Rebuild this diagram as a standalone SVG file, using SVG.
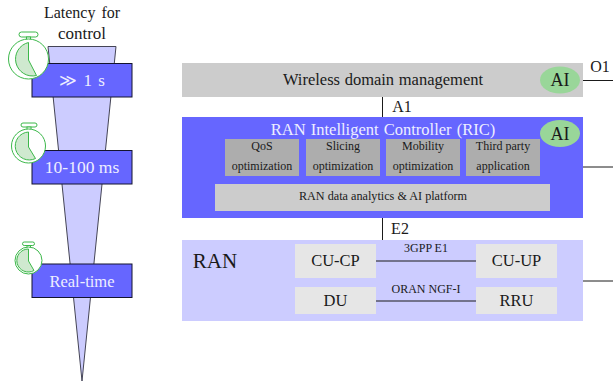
<svg xmlns="http://www.w3.org/2000/svg" width="613" height="385" viewBox="0 0 613 385">
<style>
text{font-family:"Liberation Serif","Times New Roman",serif;text-anchor:middle;fill:#1a1a1a}
.w{fill:#eeeeff}
.lat{fill:#6666ff;stroke:#14142e;stroke-width:1}
.sub{fill:#adadad}
.lg{fill:#cccccc}
.ran{fill:#e6e6e6}
.ai{fill:#99d699}
.ln{stroke:#1a1a1a;stroke-width:1;fill:none}
.c{fill:#fff;stroke:#3cb84a;stroke-width:1}
.cw{fill:#cfe9cf;stroke:#3cb84a;stroke-width:1}
.t12{font-size:12px}
</style>
<g id="latency-title">
<text x="82" y="18" style="font-size:16px;word-spacing:2px">Latency for</text>
<text x="82" y="39" style="font-size:17px">control</text>
</g>
<g id="funnel"><polygon points="48,46.500 116,46.500 82,381" fill="#ccccff" stroke="#444455" stroke-width="1"/></g>
<g id="box-slow"><rect class="lat" x="32" y="63.500" width="100" height="33.500"/><text class="w" x="82" y="86" style="font-size:17px;word-spacing:2px">≫ 1 s</text></g>
<g id="box-mid"><rect class="lat" x="32" y="150.500" width="100" height="33.500"/><text class="w" x="82" y="173" style="font-size:17.500px">10-100 ms</text></g>
<g id="box-rt"><rect class="lat" x="32" y="264" width="100" height="33.500"/><text class="w" x="82" y="287" style="font-size:16.500px">Real-time</text></g>
<g id="clock-1">
<rect class="c" x="19" y="32" width="19" height="5" rx="2.500"/><rect class="c" x="26.500" y="37" width="4" height="4"/>
<circle class="c" cx="28.500" cy="59" r="20"/>
<path class="cw" d="M28.500,42.500 A16.500,16.500 0 1 0 36.500,75.500 L28.500,60 Z"/>
</g>
<g id="clock-2">
<rect class="c" x="21" y="123" width="16" height="4" rx="2"/><rect class="c" x="27" y="127" width="4" height="4"/>
<circle class="c" cx="28.500" cy="146" r="17"/>
<path class="cw" d="M28.500,132 A14,14 0 1 0 35.500,158.500 L28.500,147 Z"/>
</g>
<g id="clock-3">
<rect class="c" x="22.500" y="242" width="12" height="3.500" rx="1.700"/><rect class="c" x="27" y="245.500" width="3.500" height="2.500"/>
<circle class="c" cx="28.500" cy="260.500" r="13.500"/>
<path class="cw" d="M28.500,249 A11.500,11.500 0 1 0 34,270.500 L28.500,261 Z"/>
</g>
<g id="wireless"><rect class="lg" x="182" y="63" width="401" height="34"/><text x="383" y="85" style="font-size:16.500px;word-spacing:.5px">Wireless domain management</text></g>
<g id="ai-top"><ellipse class="ai" cx="560" cy="80" rx="20" ry="13.500"/><text x="560" y="86" style="font-size:18px">AI</text></g>
<g id="ric"><rect x="182" y="117" width="401" height="101" fill="#6666ff"/><text class="w" x="383" y="135" style="font-size:16.500px;word-spacing:1px">RAN Intelligent Controller (RIC)</text></g>
<g id="ai-ric"><ellipse class="ai" cx="560" cy="133.500" rx="20" ry="13.500"/><text x="560" y="140" style="font-size:18px">AI</text></g>
<g id="qos"><rect class="sub" x="225" y="139" width="74" height="37"/><text class="t12" x="262" y="150">QoS</text><text class="t12" x="262" y="170">optimization</text></g>
<g id="slicing"><rect class="sub" x="306" y="139" width="74" height="37"/><text class="t12" x="343" y="150">Slicing</text><text class="t12" x="343" y="170">optimization</text></g>
<g id="mobility"><rect class="sub" x="386" y="139" width="74" height="37"/><text class="t12" x="423" y="150">Mobility</text><text class="t12" x="423" y="170">optimization</text></g>
<g id="third"><rect class="sub" x="466" y="139" width="74" height="37"/><text class="t12" x="503" y="150">Third party</text><text class="t12" x="503" y="170">application</text></g>
<g id="platform"><rect class="lg" x="215" y="184" width="335" height="27"/><text x="383" y="200" style="font-size:12.200px">RAN data analytics &amp; AI platform</text></g>
<g id="ran"><rect x="182" y="240" width="401" height="81" fill="#ccccff"/><text x="215" y="268" style="font-size:21px">RAN</text></g>
<g id="cu-cp"><rect class="ran" x="295" y="244" width="81" height="34"/><text x="335.500" y="266" style="font-size:16.500px">CU-CP</text></g>
<g id="cu-up"><rect class="ran" x="476" y="244" width="81" height="34"/><text x="516.500" y="266" style="font-size:16.500px">CU-UP</text></g>
<g id="du"><rect class="ran" x="295" y="287" width="81" height="27"/><text x="335.500" y="306" style="font-size:16.500px">DU</text></g>
<g id="rru"><rect class="ran" x="476" y="287" width="81" height="27"/><text x="516.500" y="306" style="font-size:16.500px">RRU</text></g>
<g id="connectors">
<path class="ln" d="M382.500,97V117M382.500,218V240M376,261H476M376,301H476M583,80.500H613M583,167H613M583,281H613"/>
</g>
<g id="interface-labels">
<text x="402" y="112" style="font-size:16px">A1</text>
<text x="400" y="234" style="font-size:16px">E2</text>
<text x="600" y="72" style="font-size:16px">O1</text>
<text class="t12" x="426" y="252">3GPP E1</text>
<text class="t12" x="426" y="293">ORAN NGF-I</text>
</g>
</svg>
